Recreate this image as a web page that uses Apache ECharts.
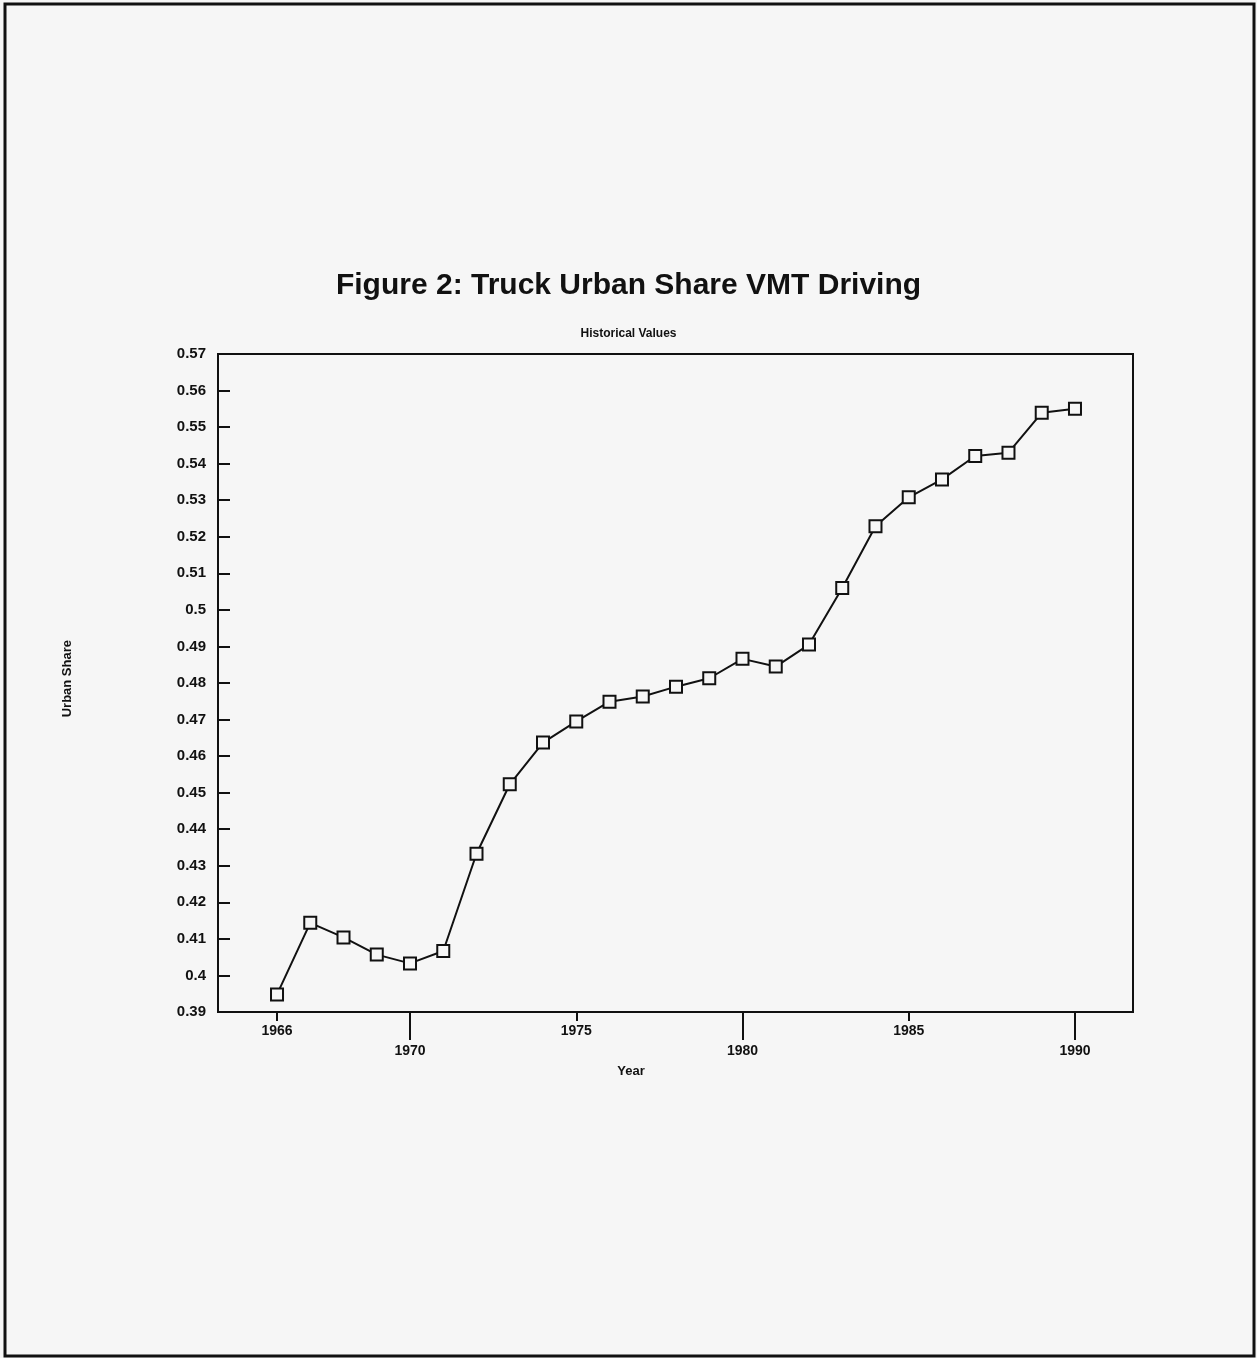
<!DOCTYPE html>
<html>
<head>
<meta charset="utf-8">
<script src="https://cdn.jsdelivr.net/npm/echarts@6/dist/echarts.min.js"></script>
<style>
  html, body { margin: 0; padding: 0; background: #f6f6f6; }
  #chart { width: 1257px; height: 1358px; }
</style>
</head>
<body>
<div id="chart"></div>
<script>
// ---- data ----
const years = [1966, 1967, 1968, 1969, 1970, 1971, 1972, 1973, 1974, 1975, 1976, 1977, 1978,
               1979, 1980, 1981, 1982, 1983, 1984, 1985, 1986, 1987, 1988, 1989, 1990];
const urbanShare = [0.3948, 0.4144, 0.4104, 0.4057, 0.4033, 0.4067, 0.4333, 0.4523, 0.4637,
                    0.4695, 0.4749, 0.4763, 0.4790, 0.4813, 0.4866, 0.4845, 0.4905, 0.5060,
                    0.5229, 0.5308, 0.5357, 0.5421, 0.5430, 0.5539, 0.5550];
const xTicksUpper = [1966, 1975, 1985];
const xTicksLower = [1970, 1980, 1990];
const yMin = 0.39, yMax = 0.57, yStep = 0.01;
const titleText = 'Figure 2: Truck Urban Share VMT Driving';
const subtitleText = 'Historical Values';
const xName = 'Year';
const yName = 'Urban Share';

const chart = echarts.init(document.getElementById('chart'), null, { renderer: 'canvas' });
const FONT = '"Liberation Sans", Arial, sans-serif';
const xMin = 1964.225, xMax = 1991.745;

const option = {
  backgroundColor: '#f6f6f6',
  animation: false,
  title: [
    { text: titleText, left: 'center', top: 266,
      textStyle: { fontFamily: FONT, fontWeight: 'bold', fontSize: 30, color: '#111' } },
    { text: subtitleText, left: 'center', top: 323,
      textStyle: { fontFamily: FONT, fontWeight: 'bold', fontSize: 12, color: '#111' } }
  ],
  graphic: [
    { type: 'rect', shape: { x: 5, y: 4, width: 1249, height: 1352 },
      style: { fill: 'none', stroke: '#111', lineWidth: 3 }, silent: true },
    { type: 'text', left: 61, top: 640, rotation: Math.PI / 2,
      style: { text: yName, fontFamily: FONT, fontWeight: 'bold', fontSize: 13, fill: '#111' } },
    { type: 'text', x: 631, y: 1071,
      style: { text: xName, fontFamily: FONT, fontWeight: 'bold', fontSize: 13, fill: '#111',
               align: 'center', verticalAlign: 'middle' } }
  ],
  grid: { left: 218, right: 124, top: 354, bottom: 346, show: true,
          borderColor: '#111', borderWidth: 2, backgroundColor: 'transparent' },
  xAxis: [
    { type: 'value', min: xMin, max: xMax, position: 'bottom',
      axisLine: { show: true, onZero: false, lineStyle: { color: '#111', width: 2 } },
      axisTick: { show: true, inside: false, length: 9, customValues: xTicksUpper,
                  lineStyle: { color: '#111', width: 2 } },
      axisLabel: { customValues: xTicksUpper, margin: 12, formatter: v => String(v),
                   fontFamily: FONT, fontWeight: 'bold', fontSize: 14, color: '#111' },
      splitLine: { show: false } },
    { type: 'value', min: xMin, max: xMax, position: 'bottom',
      axisLine: { show: false, onZero: false },
      axisTick: { show: true, inside: false, length: 28, customValues: xTicksLower,
                  lineStyle: { color: '#111', width: 2 } },
      axisLabel: { customValues: xTicksLower, margin: 32, formatter: v => String(v),
                   fontFamily: FONT, fontWeight: 'bold', fontSize: 14, color: '#111' },
      splitLine: { show: false } }
  ],
  yAxis: {
    type: 'value', min: yMin, max: yMax, interval: yStep,
    axisLine: { show: true, onZero: false, lineStyle: { color: '#111', width: 2 } },
    axisTick: { show: true, inside: true, length: 12, lineStyle: { color: '#111', width: 2 } },
    axisLabel: { margin: 12, fontFamily: FONT, fontWeight: 'bold', fontSize: 15, color: '#111',
                 formatter: v => String(parseFloat(v.toFixed(2))) },
    splitLine: { show: false }
  },
  series: [{
    type: 'line',
    xAxisIndex: 0,
    data: years.map((y, i) => [y, urbanShare[i]]),
    symbol: 'rect', symbolSize: 12, showSymbol: true,
    lineStyle: { color: '#111', width: 2 },
    itemStyle: { color: '#f6f6f6', borderColor: '#111', borderWidth: 2 }
  }]
};
chart.setOption(option);
</script>
</body>
</html>
